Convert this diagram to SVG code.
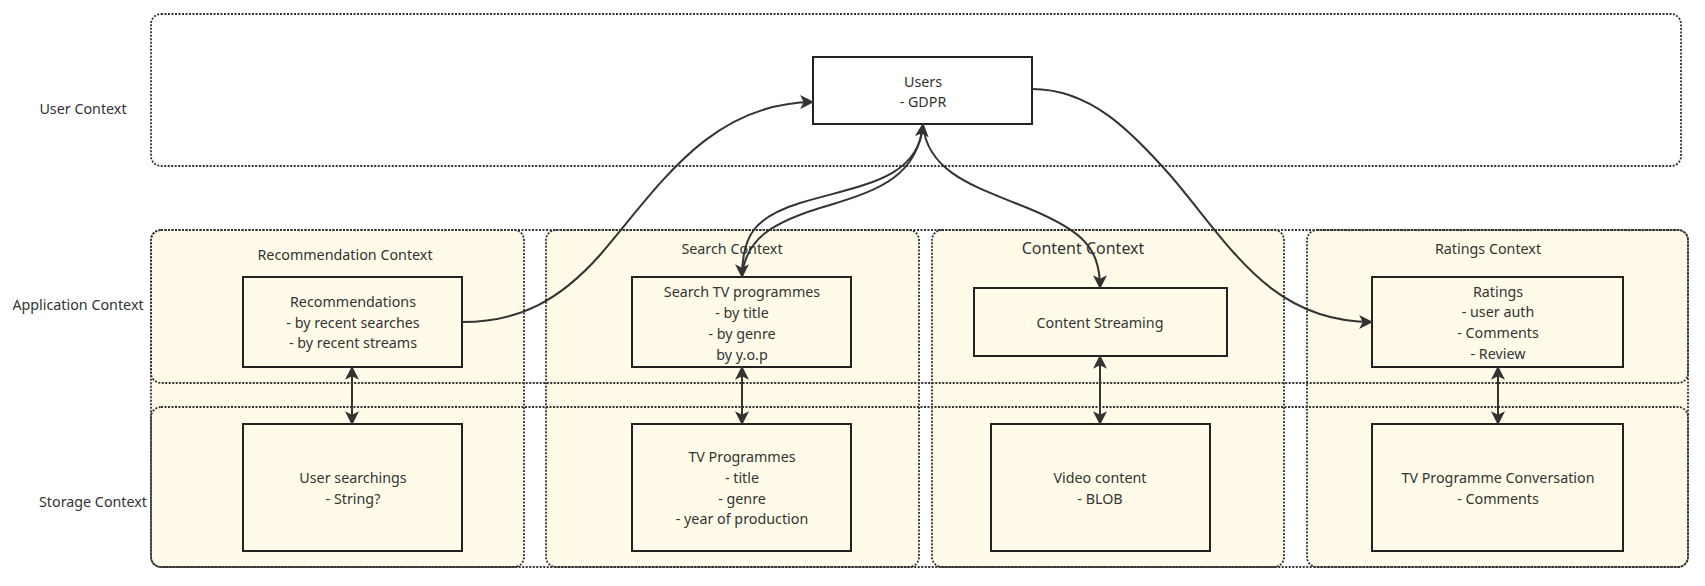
<svg xmlns="http://www.w3.org/2000/svg" width="1705" height="586" viewBox="0 0 1705 586">
<style>
text{font-family:"Noto Sans","Open Sans","DejaVu Sans",sans-serif;font-size:14.3px;fill:#333;text-anchor:middle;dominant-baseline:central}
.row{fill:none;stroke:#333;stroke-width:1.8;stroke-dasharray:2 1.5}
.col{fill:#fffbe8;stroke:#333;stroke-width:1.8;stroke-dasharray:2 1.5}
.node{fill:#fffbe8;stroke:#222;stroke-width:2}
.unode{fill:#fff;stroke:#222;stroke-width:2}
.edge{fill:none;stroke:#333;stroke-width:2}
.big{font-size:16px}
</style>
<defs>
<marker id="ah" viewBox="0 0 12 12" refX="11" refY="6" markerWidth="14" markerHeight="14" markerUnits="userSpaceOnUse" orient="auto-start-reverse">
<path d="M0,0 L12,6 L0,12 L3,6 z" fill="#333"/>
</marker>
</defs>
<rect width="1705" height="586" fill="#fff"/>

<g id="lane-labels">
<text x="83" y="108">User Context</text>
<text x="78" y="304">Application Context</text>
<text x="93" y="501">Storage Context</text>
</g>

<g id="user-context"><rect class="row" x="151" y="14" width="1530" height="152" rx="10"/></g>

<g id="recommendation-context"><rect class="col" x="151" y="230" width="373" height="337" rx="10"/><text x="345" y="254">Recommendation Context</text></g>
<g id="search-context"><rect class="col" x="546" y="230" width="373" height="337" rx="10"/><text x="732" y="248">Search Context</text></g>
<g id="content-context"><rect class="col" x="932" y="230" width="352" height="337" rx="10"/><text class="big" x="1083" y="248">Content Context</text></g>
<g id="ratings-context"><rect class="col" x="1307" y="230" width="381" height="337" rx="10"/><text x="1488" y="248">Ratings Context</text></g>

<g id="application-context"><rect class="row" x="151" y="230" width="1537" height="153" rx="10"/></g>
<g id="storage-context"><rect class="row" x="151" y="407" width="1537" height="160" rx="10"/></g>

<g id="users"><rect class="unode" x="813" y="57" width="219" height="67"/><text x="923" y="81">Users</text><text x="923" y="101">- GDPR</text></g>

<g id="recommendations"><rect class="node" x="243" y="277" width="219" height="90"/><text x="353" y="301">Recommendations</text><text x="353" y="322">- by recent searches</text><text x="353" y="342">- by recent streams</text></g>
<g id="user-searchings"><rect class="node" x="243" y="424" width="219" height="127"/><text x="353" y="477">User searchings</text><text x="353" y="498">- String?</text></g>

<g id="search-tv"><rect class="node" x="632" y="277" width="219" height="90"/><text x="742" y="291">Search TV programmes</text><text x="742" y="312">- by title</text><text x="742" y="333">- by genre</text><text x="742" y="354">by y.o.p</text></g>
<g id="tv-programmes"><rect class="node" x="632" y="424" width="219" height="127"/><text x="742" y="456">TV Programmes</text><text x="742" y="477">- title</text><text x="742" y="498">- genre</text><text x="742" y="518">- year of production</text></g>

<g id="content-streaming"><rect class="node" x="974" y="288" width="253" height="68"/><text x="1100" y="322">Content Streaming</text></g>
<g id="video-content"><rect class="node" x="991" y="424" width="219" height="127"/><text x="1100" y="477">Video content</text><text x="1100" y="498">- BLOB</text></g>

<g id="ratings"><rect class="node" x="1372" y="277" width="251" height="90"/><text x="1498" y="291">Ratings</text><text x="1498" y="311">- user auth</text><text x="1498" y="332">- Comments</text><text x="1498" y="353">- Review</text></g>
<g id="tv-conversation"><rect class="node" x="1372" y="424" width="251" height="127"/><text x="1498" y="477">TV Programme Conversation</text><text x="1498" y="498">- Comments</text></g>

<g id="connectors">
<path class="edge" marker-end="url(#ah)" d="M462,322 C520,322 560,300 600,255 C660,185 710,103 813,102"/>
<path class="edge" marker-end="url(#ah)" d="M1032,89 C1090,89 1130,130 1170,175 C1230,245 1270,322 1372,322"/>
<path class="edge" marker-end="url(#ah)" d="M923,126 C918,180 860,185 800,203 C755,217 742,235 742,277"/>
<path class="edge" marker-end="url(#ah)" d="M742,277 C745,240 770,222 830,205 C880,190 918,175 923,124"/>
<path class="edge" marker-end="url(#ah)" d="M923,126 C928,170 970,185 1015,203 C1080,228 1100,245 1100,288"/>
<path class="edge" marker-start="url(#ah)" marker-end="url(#ah)" d="M352,367 L352,424"/>
<path class="edge" marker-start="url(#ah)" marker-end="url(#ah)" d="M742,367 L742,424"/>
<path class="edge" marker-start="url(#ah)" marker-end="url(#ah)" d="M1100,356 L1100,424"/>
<path class="edge" marker-start="url(#ah)" marker-end="url(#ah)" d="M1498,367 L1498,424"/>
</g>
</svg>
